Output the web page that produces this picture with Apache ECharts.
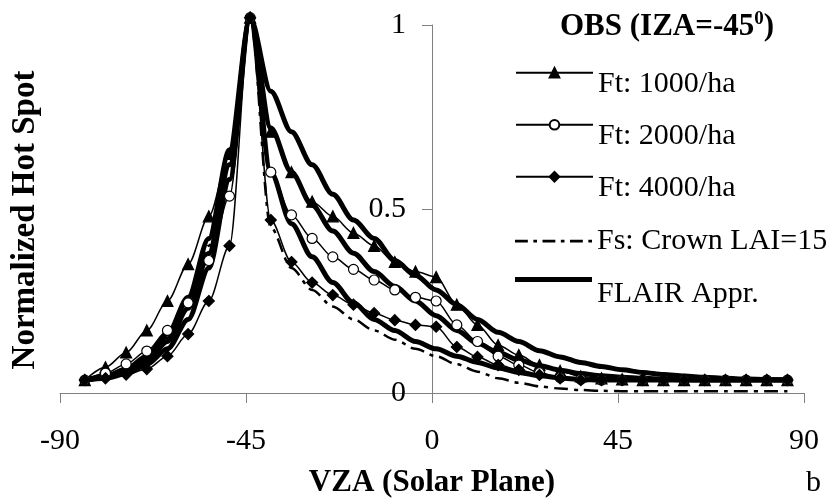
<!DOCTYPE html>
<html>
<head>
<meta charset="utf-8">
<script src="https://cdn.jsdelivr.net/npm/echarts@6/dist/echarts.min.js"></script>
<style>
  html, body { margin: 0; padding: 0; background: #fff; }
  #main { width: 839px; height: 501px; }
</style>
</head>
<body>
<div id="main"></div>
<script>
  // viewing zenith angles of the samples
  const vza = [-84, -79, -74, -69, -64, -59, -54, -49, -44, -39, -34, -29, -24, -19, -14, -9, -4, 1, 6, 11,
    16, 21, 26, 31, 36, 41, 46, 51, 56, 61, 66, 71, 76, 81, 86]

  // observed, tree density
  const ft1000 = [0.035, 0.07, 0.11, 0.17, 0.25, 0.35, 0.48, 0.65, 1.02, 0.71, 0.60, 0.52, 0.48, 0.435, 0.40, 0.356, 0.33, 0.315, 0.24, 0.185,
    0.13, 0.103, 0.076, 0.06, 0.045, 0.04, 0.037, 0.035, 0.035, 0.035, 0.035, 0.035, 0.035, 0.035, 0.035]
  const ft2000 = [0.035, 0.054, 0.079, 0.114, 0.17, 0.245, 0.36, 0.535, 1.02, 0.60, 0.484, 0.42, 0.37, 0.336, 0.307, 0.28, 0.26, 0.25, 0.185, 0.14,
    0.10, 0.076, 0.055, 0.042, 0.037, 0.035, 0.035, 0.035, 0.035, 0.035, 0.035, 0.035, 0.035, 0.035, 0.035]
  const ft4000 = [0.035, 0.04, 0.05, 0.065, 0.10, 0.16, 0.25, 0.40, 1.02, 0.47, 0.356, 0.30, 0.266, 0.24, 0.217, 0.198, 0.185, 0.18, 0.125, 0.098,
    0.076, 0.063, 0.049, 0.04, 0.035, 0.035, 0.035, 0.035, 0.035, 0.035, 0.035, 0.035, 0.035, 0.035, 0.035]
  const fsCrown = [0.03, 0.04, 0.055, 0.09, 0.15, 0.25, 0.40, 0.62, 1.02, 0.45, 0.34, 0.28, 0.235, 0.20, 0.17, 0.145, 0.12, 0.10, 0.078, 0.058,
    0.04, 0.028, 0.018, 0.012, 0.008, 0.006, 0.005, 0.005, 0.005, 0.005, 0.005, 0.005, 0.005, 0.005, 0.005]

  // FLAIR approximation, one per density
  const flair1000 = [0.035, 0.045, 0.065, 0.10, 0.16, 0.26, 0.42, 0.66, 1.02, 0.82, 0.71, 0.62, 0.54, 0.47, 0.42, 0.36, 0.32, 0.28, 0.24, 0.20,
    0.165, 0.14, 0.115, 0.098, 0.083, 0.072, 0.063, 0.056, 0.05, 0.046, 0.043, 0.04, 0.038, 0.037, 0.036]
  const flair2000 = [0.035, 0.042, 0.058, 0.088, 0.14, 0.23, 0.38, 0.62, 1.02, 0.72, 0.60, 0.51, 0.44, 0.38, 0.33, 0.29, 0.25, 0.21, 0.17, 0.135,
    0.11, 0.09, 0.074, 0.062, 0.053, 0.047, 0.043, 0.04, 0.038, 0.036, 0.035, 0.035, 0.035, 0.035, 0.035]
  const flair4000 = [0.035, 0.04, 0.052, 0.078, 0.12, 0.20, 0.34, 0.58, 1.02, 0.60, 0.46, 0.37, 0.30, 0.245, 0.20, 0.17, 0.14, 0.12, 0.10, 0.083,
    0.068, 0.056, 0.047, 0.041, 0.037, 0.035, 0.035, 0.035, 0.035, 0.035, 0.035, 0.035, 0.035, 0.035, 0.035]

  const xTicks = [-90, -45, 0, 45, 90]
  const yTicks = [0, 0.5, 1]

  const font = 'Liberation Serif, Times New Roman, serif'
  const pairs = (ys) => vza.map((x, i) => [x, ys[i]])

  function obs(name, ys, symbol, fill, size) {
    return {
      name: name,
      type: 'line',
      data: pairs(ys),
      smooth: 0.3,
      smoothMonotone: 'x',
      clip: false,
      symbol: symbol,
      symbolSize: size,
      showAllSymbol: true,
      itemStyle: { color: fill, borderColor: '#000', borderWidth: 1.2 },
      lineStyle: { color: '#000', width: 1.5 },
      z: 3
    }
  }

  function flair(ys) {
    return {
      name: 'FLAIR Appr.',
      type: 'line',
      data: pairs(ys),
      smooth: 0.3,
      smoothMonotone: 'x',
      clip: false,
      symbol: 'none',
      itemStyle: { color: '#000' },
      lineStyle: { color: '#000', width: 5 },
      z: 2
    }
  }

  function legendAt(item, top, padTop, h) {
    return {
      data: [item],
      left: 510,
      top: top,
      itemWidth: 77,
      itemHeight: h,
      itemGap: 0,
      formatter: '{t|{name}}',
      textStyle: {
        rich: { t: { fontFamily: font, fontSize: 30, color: '#000', padding: [padTop, 0, 0, 0] } }
      }
    }
  }

  const dashDot = 'path://M0,0h14v3h-14z M20,0h4v3h-4z M30,0h14v3h-14z M50,0h4v3h-4z M60,0h14v3h-14z M80,0h4v3h-4z'

  const chart = echarts.init(document.getElementById('main'))
  chart.setOption({
    backgroundColor: '#fff',
    animation: false,
    title: {
      left: 555,
      top: 5,
      text: '{a|OBS (IZA=-45}{s|0}{a|)}',
      textStyle: {
        rich: {
          a: { fontFamily: font, fontSize: 31, fontWeight: 'bold', color: '#000', verticalAlign: 'bottom' },
          s: { fontFamily: font, fontSize: 19, fontWeight: 'bold', color: '#000', verticalAlign: 'top', padding: [0, 0, 13, 0] }
        }
      }
    },
    legend: [
      legendAt('Ft: 1000/ha', 62, 22, 12),
      legendAt('Ft: 2000/ha', 114, 22, 12),
      legendAt('Ft: 4000/ha', 166, 22, 12),
      legendAt({ name: 'Fs: Crown LAI=15', icon: dashDot }, 221, 0, 3),
      legendAt({ name: 'FLAIR Appr.', icon: 'rect' }, 272, 30, 5)
    ],
    graphic: [{
      type: 'text',
      left: 806,
      top: 468,
      style: { text: 'b', font: '30px ' + font, fill: '#000' }
    }],
    grid: { left: 60, right: 35, top: 25, bottom: 108, containLabel: false, outerBoundsMode: 'none' },
    xAxis: {
      type: 'value',
      min: xTicks[0],
      max: xTicks[xTicks.length - 1],
      interval: 45,
      name: 'VZA (Solar Plane)',
      nameLocation: 'middle',
      nameGap: 74,
      nameTextStyle: { fontFamily: font, fontSize: 31, fontWeight: 'bold', color: '#000' },
      axisLine: { onZero: false, lineStyle: { color: '#808080', width: 1 } },
      axisTick: { show: true, length: 10, lineStyle: { color: '#808080' } },
      axisLabel: { margin: 33, fontFamily: font, fontSize: 30, color: '#000' },
      splitLine: { show: false }
    },
    yAxis: {
      type: 'value',
      min: yTicks[0],
      max: yTicks[yTicks.length - 1],
      interval: 0.5,
      // pull the axis from the grid's left edge onto VZA = 0
      offset: -372,
      name: 'Normalized Hot Spot',
      nameLocation: 'middle',
      nameGap: 390,
      nameRotate: 90,
      nameTextStyle: { fontFamily: font, fontSize: 33, fontWeight: 'bold', color: '#000', padding: [0, 22, 0, 0] },
      axisLine: { show: true, onZero: false, lineStyle: { color: '#808080', width: 1 } },
      axisTick: { show: true, length: 10, lineStyle: { color: '#808080' } },
      axisLabel: { margin: 26, fontFamily: font, fontSize: 30, color: '#000' },
      splitLine: { show: false }
    },
    series: [
      obs('Ft: 1000/ha', ft1000, 'triangle', '#000', 11),
      obs('Ft: 2000/ha', ft2000, 'circle', '#fff', 10),
      obs('Ft: 4000/ha', ft4000, 'diamond', '#000', 11),
      {
        name: 'Fs: Crown LAI=15',
        type: 'line',
        data: pairs(fsCrown),
        smooth: 0.3,
        smoothMonotone: 'x',
        clip: false,
        symbol: 'none',
        itemStyle: { color: '#000' },
        lineStyle: { color: '#000', width: 2.5, type: [14, 6, 4, 6] },
        z: 2
      },
      flair(flair1000),
      flair(flair2000),
      flair(flair4000)
    ]
  })
</script>
</body>
</html>
